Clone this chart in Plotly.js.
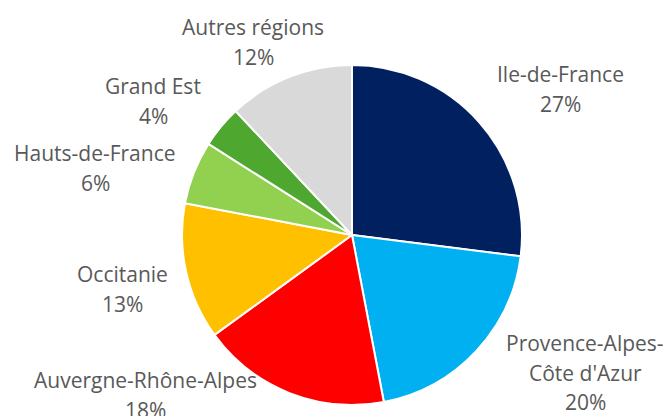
<!DOCTYPE html>
<html>
<head>
<meta charset="utf-8">
<script src="https://cdn.plot.ly/plotly-3.0.1.min.js"></script>
<style>html,body{margin:0;padding:0;background:#fff;}#chart{width:669px;height:416px;}</style>
</head>
<body>
<div id="chart"></div>
<script>
const regions = ["Ile-de-France", "Provence-Alpes-Côte d'Azur", "Auvergne-Rhône-Alpes", "Occitanie", "Hauts-de-France", "Grand Est", "Autres régions"];
const shares = [27, 20, 18, 13, 6, 4, 12];
const sliceColors = ["#002060", "#00B0F0", "#FF0000", "#FFC000", "#92D050", "#4EA72E", "#D9D9D9"];
// label layout (pixel centres of name line(s), percent line)
const labelPos = [
  {x: 560, y: [74], py: 104},
  {x: 585, y: [343, 373], py: 402},
  {x: 145, y: [380], py: 410},
  {x: 122, y: [274], py: 304},
  {x: 95,  y: [153], py: 183},
  {x: 153, y: [86], py: 116},
  {x: 253, y: [27], py: 57}
];
const W = 669, H = 416;
const px = x => x / W, py = y => 1 - y / H;
const font = {family: "Open Sans, sans-serif", size: 21, color: "#595959"};
const annotations = [];
regions.forEach((r, i) => {
  const p = labelPos[i];
  const lines = i === 1 ? ["Provence-Alpes-", "Côte d'Azur"] : [r];
  lines.forEach((t, k) => annotations.push({text: t, x: px(p.x), y: py(p.y[k]), xref: "paper", yref: "paper", showarrow: false, xanchor: "center", yanchor: "middle", font}));
  annotations.push({text: shares[i] + "%", x: px(p.x), y: py(p.py), xref: "paper", yref: "paper", showarrow: false, xanchor: "center", yanchor: "middle", font});
});
const cx = 352, cy = 235, R = 170;
Plotly.newPlot("chart", [{
  type: "pie",
  labels: regions,
  values: shares,
  sort: false,
  direction: "clockwise",
  rotation: 0,
  textinfo: "none",
  hoverinfo: "label+percent",
  marker: {colors: sliceColors, line: {color: "#ffffff", width: 2}},
  domain: {x: [px(cx - R), px(cx + R)], y: [py(cy + R), py(cy - R)]}
}], {
  width: W, height: H,
  margin: {l: 0, r: 0, t: 0, b: 0},
  showlegend: false,
  paper_bgcolor: "#ffffff",
  annotations
}, {displayModeBar: false, staticPlot: true});
</script>
</body>
</html>
